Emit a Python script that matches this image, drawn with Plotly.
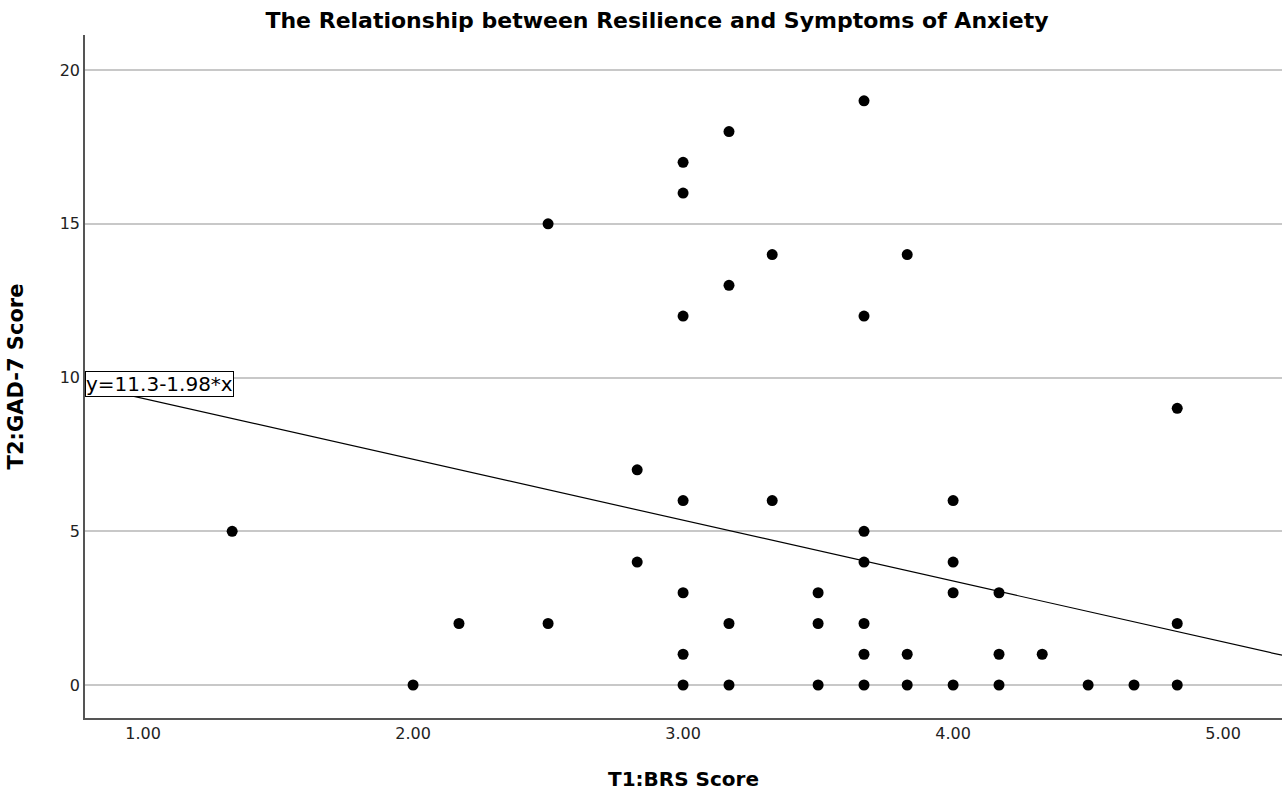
import plotly.graph_objects as go

brs = [1.33, 2.0, 2.17, 2.5, 2.5, 2.83, 2.83,
       3.0, 3.0, 3.0, 3.0, 3.0, 3.0, 3.0,
       3.17, 3.17, 3.17, 3.17,
       3.33, 3.33,
       3.5, 3.5, 3.5,
       3.67, 3.67, 3.67, 3.67, 3.67, 3.67, 3.67,
       3.83, 3.83, 3.83,
       4.0, 4.0, 4.0, 4.0,
       4.17, 4.17, 4.17,
       4.33, 4.5, 4.67,
       4.83, 4.83, 4.83]
gad7 = [5, 0, 2, 15, 2, 7, 4,
        17, 16, 12, 6, 3, 1, 0,
        18, 13, 2, 0,
        14, 6,
        3, 2, 0,
        19, 12, 5, 4, 2, 1, 0,
        14, 1, 0,
        6, 4, 3, 0,
        3, 1, 0,
        1, 0, 0,
        9, 2, 0]

intercept = 11.3
slope = -1.98
x_range = [0.785, 5.218]
y_range = [-1.073, 21.14]
x_ticks = [1, 2, 3, 4, 5]
x_tick_labels = ["1.00", "2.00", "3.00", "4.00", "5.00"]
y_ticks = [0, 5, 10, 15, 20]

fig = go.Figure()
fig.add_trace(go.Scatter(
    x=x_range, y=[intercept + slope * v for v in x_range],
    mode="lines", line=dict(color="black", width=1.2), hoverinfo="skip",
))
fig.add_trace(go.Scatter(
    x=brs, y=gad7, mode="markers",
    marker=dict(color="black", size=11),
))

fig.add_annotation(
    x=x_range[0], y=9.79, xref="x", yref="y", xanchor="left", yanchor="middle",
    text="y=11.3-1.98*x", showarrow=False,
    font=dict(family="DejaVu Sans", size=20, color="black"),
    bgcolor="white", bordercolor="black", borderwidth=1, borderpad=0,
)

fig.update_layout(
    width=1282, height=796,
    margin=dict(l=85, r=0, t=35, b=78),
    paper_bgcolor="white", plot_bgcolor="white",
    showlegend=False,
    title=dict(text="<b>The Relationship between Resilience and Symptoms of Anxiety</b>",
               x=0.5125, xanchor="center", y=0.975, yanchor="middle",
               font=dict(family="DejaVu Sans", size=22, color="black")),
    font=dict(family="DejaVu Sans", color="black"),
)
fig.update_xaxes(
    range=x_range, tickvals=x_ticks, ticktext=x_tick_labels,
    showgrid=False, zeroline=False, showline=True, linecolor="#555555", linewidth=1.5,
    ticks="", tickfont=dict(family="DejaVu Sans", size=16, color="#222222"),
    title=dict(text="<b>T1:BRS Score</b>", font=dict(size=20, color="black"), standoff=30),
)
fig.update_yaxes(
    range=y_range, tickvals=y_ticks,
    showgrid=True, gridcolor="#c8c8c8", gridwidth=1.5, zeroline=False,
    showline=True, linecolor="#555555", linewidth=1.5,
    ticks="", tickfont=dict(family="DejaVu Sans", size=16, color="#222222"),
    title=dict(text="<b>T2:GAD-7 Score</b>", font=dict(size=21, color="black"), standoff=30),
)

fig.write_html("out.html")
